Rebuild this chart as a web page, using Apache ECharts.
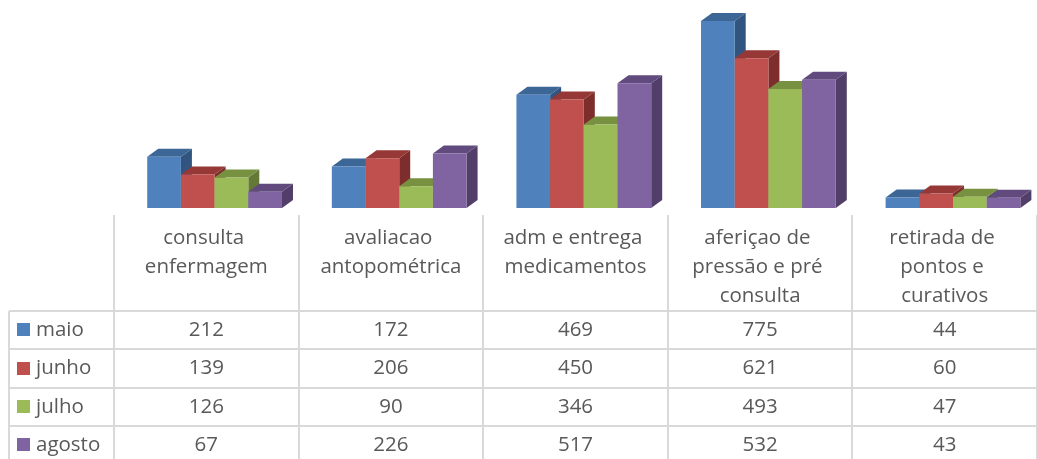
<!DOCTYPE html>
<html>
<head>
<meta charset="utf-8">
<script src="https://cdn.jsdelivr.net/npm/echarts@6/dist/echarts.min.js"></script>
<style>
  html, body { margin: 0; padding: 0; background: #fff; }
  #chart { width: 1037px; height: 459px; }
</style>
</head>
<body>
<div id="chart"></div>
<script>
var categories = ['consulta enfermagem', 'avaliacao antopométrica', 'adm e entrega medicamentos', 'aferiçao de pressão e pré consulta', 'retirada de pontos e curativos'];
var months = ['maio', 'junho', 'julho', 'agosto'];
var maio = [212, 172, 469, 775, 44];
var junho = [139, 206, 450, 621, 60];
var julho = [126, 90, 346, 493, 47];
var agosto = [67, 226, 517, 532, 43];
var seriesValues = [maio, junho, julho, agosto];

// cores estilo Excel: frente, topo, lateral
var faceColors = [
  { front: '#4F81BD', top: '#3C6696', side: '#32557F' },
  { front: '#C0504D', top: '#953836', side: '#7D2E2C' },
  { front: '#9BBB59', top: '#779140', side: '#637935' },
  { front: '#8064A2', top: '#614B7E', side: '#513F69' }
];
var textColor = '#595959';
var lineColor = '#d9d9d9';
var fontFamily = '"Open Sans", sans-serif';
var fontSize = 20.5;

var chartDom = document.getElementById('chart');
var myChart = echarts.init(chartDom);

function makeRenderer(idx) {
  return function (params, api) {
    var cat = api.value(0);
    var val = api.value(1);
    var base = api.coord([cat, 0]);
    var top = api.coord([cat, val]);
    var band = api.size([1, 0])[0];
    var bw = band * 0.1825;
    var x0 = base[0] - band * 0.32 + idx * bw;
    var x1 = x0 + bw;
    var yb = base[1], yt = top[1];
    var dx = 11, dy = 8;
    var c = faceColors[idx];
    return {
      type: 'group',
      children: [
        { type: 'polygon', shape: { points: [[x1, yb], [x1 + dx, yb - dy], [x1 + dx, yt - dy], [x1, yt]] }, style: { fill: c.side } },
        { type: 'polygon', shape: { points: [[x0, yt], [x0 + dx, yt - dy], [x1 + dx, yt - dy], [x1, yt]] }, style: { fill: c.top } },
        { type: 'rect', shape: { x: x0, y: yt, width: bw, height: yb - yt }, style: { fill: c.front } }
      ]
    };
  };
}

var series = months.map(function (m, i) {
  return {
    name: m,
    type: 'custom',
    renderItem: makeRenderer(i),
    encode: { x: 0, y: 1 },
    data: seriesValues[i].map(function (v, j) { return [j, v]; })
  };
});

var option = {
  animation: false,
  grid: { left: 114, top: 15, width: 931, height: 193 },
  xAxis: {
    type: 'category',
    data: categories,
    axisLine: { show: false },
    axisTick: { show: false },
    axisLabel: {
      interval: 0,
      margin: 16,
      width: 165,
      overflow: 'break',
      color: textColor,
      fontFamily: fontFamily,
      fontSize: fontSize,
      lineHeight: 29
    }
  },
  yAxis: {
    type: 'value',
    min: 0,
    max: 800,
    show: false
  },
  series: series
};
myChart.setOption(option);

// tabela de dados abaixo do gráfico
var band = myChart.convertToPixel({ xAxisIndex: 0 }, 1) - myChart.convertToPixel({ xAxisIndex: 0 }, 0);
var centers = categories.map(function (c, i) { return myChart.convertToPixel({ xAxisIndex: 0 }, i); });
var tableLeft = 9, headTop = 215, rowTop = 311, rowH = 38.4;
var tableRight = centers[centers.length - 1] + band / 2;
var tableBottom = rowTop + rowH * months.length;
var elements = [];

function line(x1, y1, x2, y2) {
  elements.push({ type: 'line', silent: true, shape: { x1: x1, y1: y1, x2: x2, y2: y2 }, style: { stroke: lineColor, lineWidth: 2 } });
}

for (var i = 0; i <= categories.length; i++) {
  var x = Math.round((i < categories.length ? centers[i] - band / 2 : tableRight));
  line(x, headTop, x, tableBottom);
}
line(tableLeft, rowTop, tableLeft, tableBottom);
for (var r = 0; r <= months.length; r++) {
  var y = Math.round(rowTop + r * rowH);
  line(tableLeft, y, tableRight, y);
}

months.forEach(function (m, r) {
  var cy = rowTop + r * rowH + rowH / 2;
  elements.push({ type: 'rect', silent: true, shape: { x: 17, y: Math.round(cy) - 7, width: 13, height: 13 }, style: { fill: faceColors[r].front } });
  elements.push({ type: 'text', silent: true, x: 36, y: cy, style: { text: m, fill: textColor, font: fontSize + 'px ' + fontFamily, textVerticalAlign: 'middle' } });
  seriesValues[r].forEach(function (v, j) {
    elements.push({ type: 'text', silent: true, x: centers[j], y: cy, style: { text: String(v), fill: textColor, font: fontSize + 'px ' + fontFamily, textAlign: 'center', textVerticalAlign: 'middle' } });
  });
});

myChart.setOption({ graphic: { elements: elements } });
</script>
</body>
</html>
